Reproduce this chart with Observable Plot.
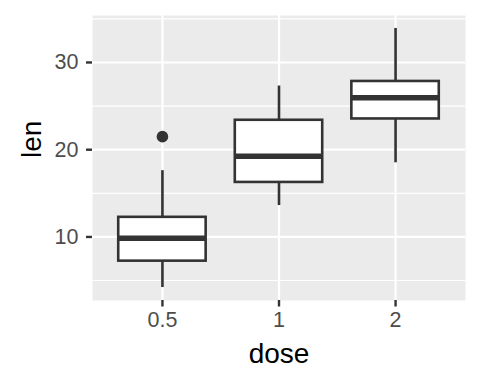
<!DOCTYPE html>
<html><head><meta charset="utf-8">
<script src="https://cdn.jsdelivr.net/npm/d3@7"></script>
<script src="https://cdn.jsdelivr.net/npm/@observablehq/plot@0.6"></script>
<style>body{margin:0;background:#fff} svg{font-family:"Liberation Sans",Arial,sans-serif}</style>
</head><body><div id="chart"></div>
<script>
const doses = ["0.5", "1", "2"];
const lowerWhisker = [4.2, 13.6, 18.5];
const q1 = [7.225, 16.25, 23.525];
const median = [9.85, 19.25, 25.95];
const q3 = [12.25, 23.375, 27.825];
const upperWhisker = [17.6, 27.3, 33.9];
const outlierDose = ["0.5"];
const outlierLen = [21.5];
const majorY = [10, 20, 30];
const minorY = [5, 15, 25, 35];
const boxWidth = 0.75;

const idx = d => doses.indexOf(d) + 1;
const boxes = doses.map((d, i) => ({
  dose: d, x: i + 1, lo: lowerWhisker[i], q1: q1[i], med: median[i], q3: q3[i], hi: upperWhisker[i]
}));
const outliers = outlierDose.map((d, i) => ({x: idx(d), len: outlierLen[i]}));
const xTicks = doses.map(idx);

const ink = "#333333";
const plot = Plot.plot({
  width: 480, height: 384,
  marginLeft: 92, marginRight: 15, marginTop: 15, marginBottom: 84,
  x: {type: "linear", domain: [0.4, 3.6]},
  y: {domain: [2.715, 35.385]},
  style: {fontFamily: "'Liberation Sans', Arial, sans-serif", background: "white"},
  marks: [
    Plot.frame({fill: "#EBEBEB", stroke: null}),
    Plot.ruleY(minorY, {stroke: "white", strokeWidth: 1.1}),
    Plot.ruleY(majorY, {stroke: "white", strokeWidth: 2.2}),
    Plot.ruleX(xTicks, {stroke: "white", strokeWidth: 2.2}),
    Plot.ruleX(boxes, {x: "x", y1: "lo", y2: "q1", stroke: ink, strokeWidth: 2.6}),
    Plot.ruleX(boxes, {x: "x", y1: "q3", y2: "hi", stroke: ink, strokeWidth: 2.6}),
    Plot.rect(boxes, {x1: d => d.x - boxWidth / 2, x2: d => d.x + boxWidth / 2, y1: "q1", y2: "q3",
      fill: "white", stroke: ink, strokeWidth: 2.6}),
    Plot.ruleY(boxes, {y: "med", x1: d => d.x - boxWidth / 2, x2: d => d.x + boxWidth / 2,
      stroke: ink, strokeWidth: 5.4}),
    Plot.dot(outliers, {x: "x", y: "len", r: 5.8, fill: ink, stroke: null}),
    Plot.axisY(majorY, {tickSize: 6, tickPadding: 8, fontSize: 21.5, stroke: ink, strokeWidth: 2.4,
      fill: "#4D4D4D", label: null}),
    Plot.axisX(xTicks, {tickSize: 6.5, tickPadding: 5, fontSize: 21.5, stroke: ink, strokeWidth: 2.4,
      fill: "#4D4D4D", label: null, tickFormat: v => doses[v - 1]}),
    Plot.text(["len"], {text: d => d, frameAnchor: "left", dx: -52, rotate: -90, lineAnchor: "bottom",
      fontSize: 28, fill: "black"}),
    Plot.text(["dose"], {text: d => d, frameAnchor: "bottom", dy: 62, lineAnchor: "bottom",
      fontSize: 28, fill: "black"})
  ]
});
document.getElementById("chart").appendChild(plot);
</script></body></html>
